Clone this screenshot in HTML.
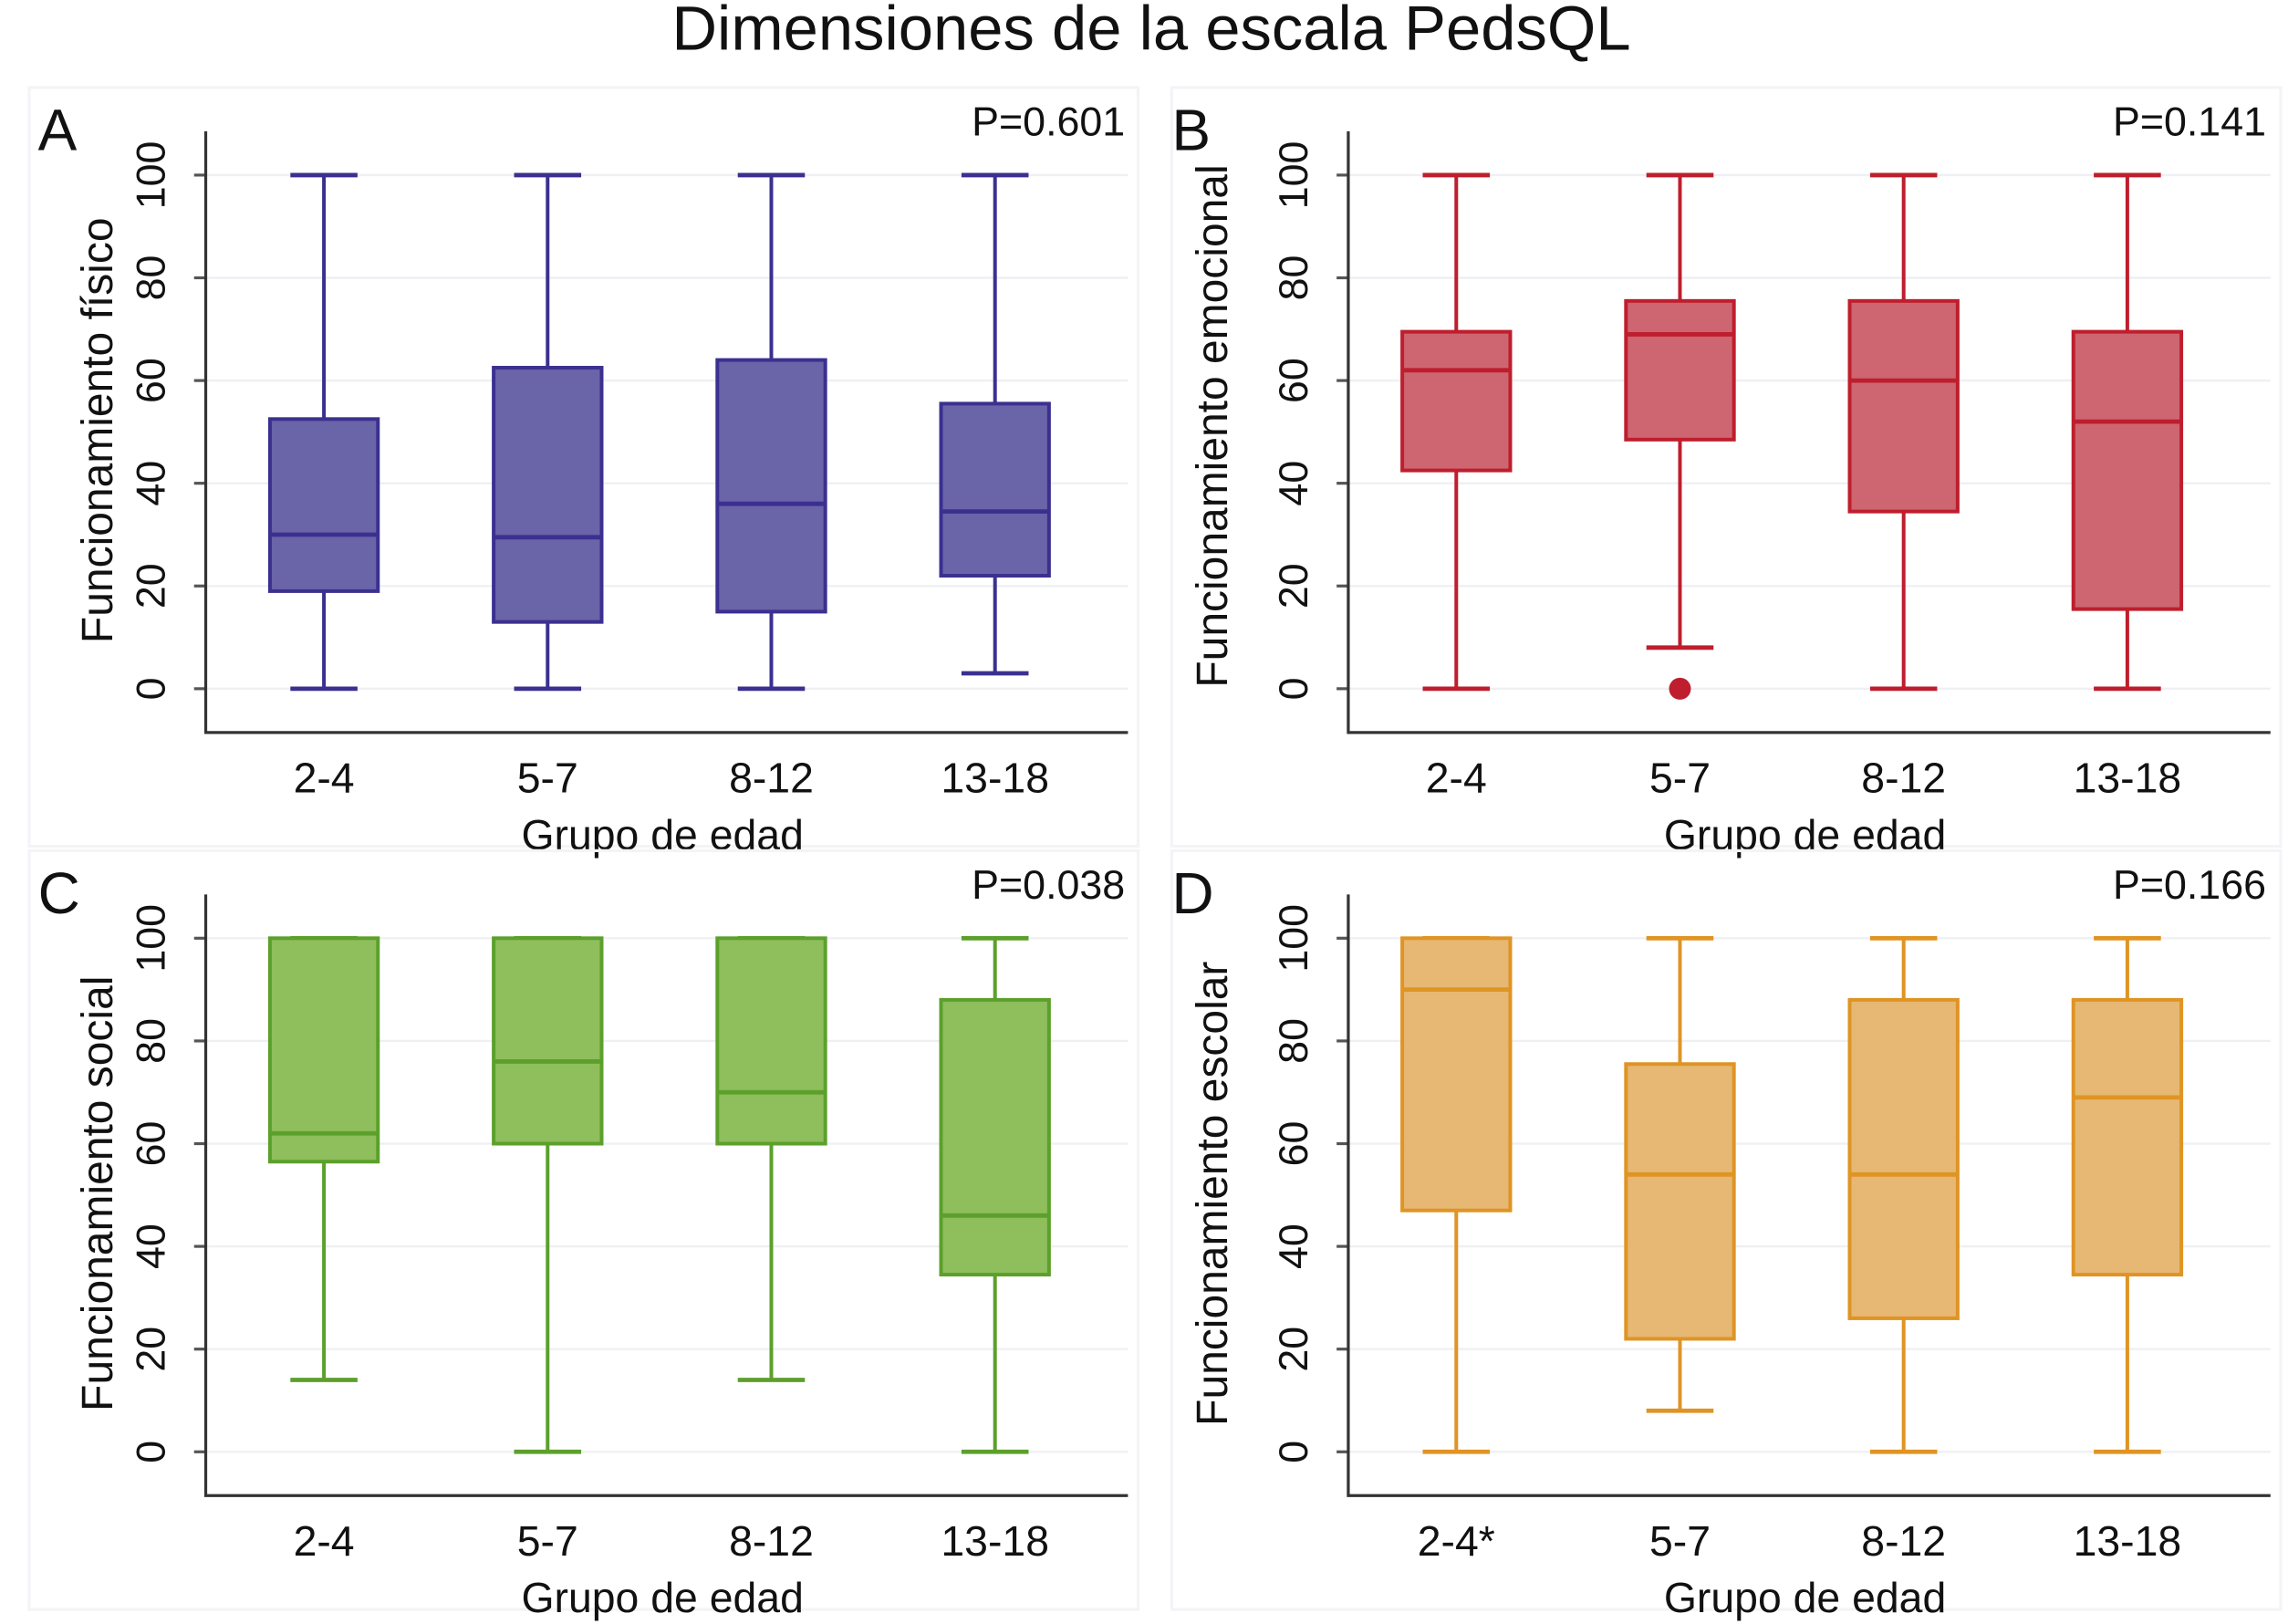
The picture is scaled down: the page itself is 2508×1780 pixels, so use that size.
<!DOCTYPE html>
<html><head><meta charset="utf-8"><style>
html,body{margin:0;padding:0;background:#fff;}
svg{display:block;font-family:"Liberation Sans",sans-serif;}
</style></head><body>
<svg id="chart" width="2508" height="1780" viewBox="0 0 1568 1113" preserveAspectRatio="none" xmlns="http://www.w3.org/2000/svg">
<rect x="0" y="0" width="1568" height="1113" fill="#fff"/>
<text x="789" y="34" font-size="43" text-anchor="middle" fill="#111">Dimensiones de la escala PedsQL</text>
</svg>
<script>
const categories = ["2-4","5-7","8-12","13-18"];
const yTicks = [0,20,40,60,80,100];
const panelLetters = ["A","B","C","D"];
const pValues = ["P=0.601","P=0.141","P=0.038","P=0.166"];
const yTitles = ["Funcionamiento físico","Funcionamiento emocional","Funcionamiento social","Funcionamiento escolar"];
const xLabelsD = ["2-4*","5-7","8-12","13-18"];
// [lowWhisker, q1, median, q3, highWhisker]
const fisico = [[0,19,30,52.5,100],[0,13,29.5,62.5,100],[0,15,36,64,100],[3,22,34.5,55.5,100]];
const emocional = [[0,42.5,62,69.5,100],[8,48.5,69,75.5,100],[0,34.5,60,75.5,100],[0,15.5,52,69.5,100]];
const social = [[14,56.5,62,100,100],[0,60,76,100,100],[14,60,70,100,100],[0,34.5,46,88,100]];
const escolar = [[0,47,90,100,100],[8,22,54,75.5,100],[0,26,54,88,100],[0,34.5,69,88,100]];
const outliersB = [[1,0]];

const svg = document.getElementById('chart');
const NS = "http://www.w3.org/2000/svg";
function mk(tag, attrs, parent){
  const e = document.createElementNS(NS, tag);
  for (const k in attrs) e.setAttribute(k, attrs[k]);
  (parent||svg).appendChild(e);
  return e;
}
const panels = [
  {ox:0, oy:0, cx0:222, data:fisico, fill:"#6a64a8", stroke:"#3b3090", name:"fisico"},
  {ox:783, oy:0, cx0:998, data:emocional, fill:"#cd6671", stroke:"#be1e2d", name:"emocional"},
  {ox:0, oy:523, cx0:222, data:social, fill:"#8fbe5c", stroke:"#5ca02c", name:"social"},
  {ox:783, oy:523, cx0:998, data:escolar, fill:"#e6b874", stroke:"#df9424", name:"escolar"}
];
panels.forEach((p,i)=>{
  const g = mk('g', {});
  
  
  const y = v => p.oy + 472 - v*3.52;
  const x = c => p.cx0 + c*153.3;
  const bg = mk('rect', {x:p.ox+20, y:p.oy+60, width:760, height:520, fill:"none", stroke:"#f3f4f7", "stroke-width":2}, g);
  
  
  yTicks.forEach(t=>{
    const gl = mk('line', {x1:p.ox+141, x2:p.ox+773, y1:y(t), y2:y(t), stroke:"#eef0f3", "stroke-width":1.5}, g);
    
    
    const tk = mk('line', {x1:p.ox+133, x2:p.ox+141, y1:y(t), y2:y(t), stroke:"#555", "stroke-width":2}, g);
    
    
    const tl = mk('text', {x:0, y:0, "font-size":28, "text-anchor":"middle", fill:"#111", transform:`translate(${p.ox+113},${y(t)}) rotate(-90)`}, g);
    
    
    tl.textContent = t;
  });
  const ax = mk('path', {d:`M${p.ox+141},${p.oy+90} V${p.oy+502} H${p.ox+773}`, fill:"none", stroke:"#333", "stroke-width":2}, g);
  
  
  const labels = i===3 ? xLabelsD : categories;
  p.data.forEach((d,c)=>{
    const cx = x(c);
    const bx = mk('g', {}, g);
    
    
    mk('line', {x1:cx, x2:cx, y1:y(d[4]), y2:y(d[3]), stroke:p.stroke, "stroke-width":2.5}, bx);
    mk('line', {x1:cx, x2:cx, y1:y(d[1]), y2:y(d[0]), stroke:p.stroke, "stroke-width":2.5}, bx);
    mk('line', {x1:cx-23, x2:cx+23, y1:y(d[4]), y2:y(d[4]), stroke:p.stroke, "stroke-width":3}, bx);
    mk('line', {x1:cx-23, x2:cx+23, y1:y(d[0]), y2:y(d[0]), stroke:p.stroke, "stroke-width":3}, bx);
    mk('rect', {x:cx-37, y:y(d[3]), width:74, height:y(d[1])-y(d[3]), fill:p.fill, stroke:p.stroke, "stroke-width":2.5}, bx);
    mk('line', {x1:cx-37, x2:cx+37, y1:y(d[2]), y2:y(d[2]), stroke:p.stroke, "stroke-width":3}, bx);
    const xl = mk('text', {x:cx, y:p.oy+543, "font-size":29, "text-anchor":"middle", fill:"#111"}, g);
    
    
    xl.textContent = labels[c];
  });
  if (i===1) outliersB.forEach(o=>{
    const dot = mk('circle', {cx:x(o[0]), cy:y(o[1]), r:7.5, fill:"#be1e2d"}, g);
    
    
  });
  const xt = mk('text', {x:p.ox+454, y:p.oy+582, "font-size":29, "text-anchor":"middle", fill:"#111"}, g);
  
  
  xt.textContent = "Grupo de edad";
  const yt = mk('text', {x:0, y:0, "font-size":30, "text-anchor":"middle", fill:"#111", transform:`translate(${p.ox+(i%2?58:77)},${p.oy+(i===1?292:295)}) rotate(-90)`}, g);
  
  
  yt.textContent = yTitles[i];
  const lt = mk('text', {x:p.ox+(i%2?20:26), y:p.oy+103, "font-size":40, fill:"#111"}, g);
  
  
  lt.textContent = panelLetters[i];
  const pv = mk('text', {x:p.ox+(i%2?770:771), y:p.oy+93, "font-size":28, "text-anchor":"end", fill:"#111"}, g);
  
  
  pv.textContent = pValues[i];
});
</script>
</body></html>
